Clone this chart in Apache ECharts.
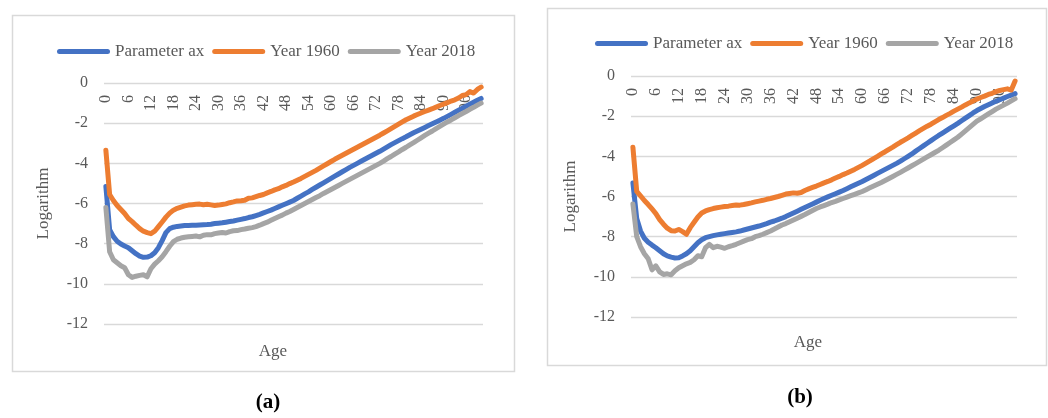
<!DOCTYPE html>
<html>
<head>
<meta charset="utf-8">
<script src="https://cdn.jsdelivr.net/npm/echarts@6/dist/echarts.min.js"></script>
<style>
html,body{margin:0;padding:0;background:#fff;}
#c{width:1048px;height:418px;}
</style>
</head>
<body>
<div id="c"></div>
<script>
const ages = Array.from({length: 101}, (_, i) => String(i));
const seriesNames = ['Parameter ax', 'Year 1960', 'Year 2018'];
const yTicks = [0, -2, -4, -6, -8, -10, -12];

const axA = [-5.15,-7.3,-7.65,-7.88,-8.02,-8.12,-8.2,-8.35,-8.5,-8.62,-8.68,-8.67,-8.6,-8.45,-8.2,-7.85,-7.45,-7.25,-7.18,-7.14,
-7.12,-7.1,-7.09,-7.08,-7.08,-7.07,-7.06,-7.05,-7.03,-7.0,-6.98,-6.96,-6.93,-6.9,-6.87,-6.83,-6.79,-6.75,-6.7,-6.66,
-6.6,-6.54,-6.47,-6.4,-6.33,-6.25,-6.17,-6.09,-6.01,-5.93,-5.85,-5.74,-5.63,-5.52,-5.42,-5.3,-5.19,-5.08,-4.97,-4.86,
-4.75,-4.64,-4.53,-4.42,-4.31,-4.2,-4.1,-4.0,-3.9,-3.8,-3.7,-3.6,-3.5,-3.4,-3.29,-3.18,-3.07,-2.97,-2.87,-2.77,
-2.68,-2.58,-2.48,-2.39,-2.3,-2.21,-2.12,-2.03,-1.94,-1.85,-1.76,-1.66,-1.56,-1.46,-1.36,-1.26,-1.16,-1.06,-0.96,-0.86,-0.77];
const y1960A = [-3.35,-5.55,-5.85,-6.1,-6.3,-6.5,-6.75,-6.9,-7.08,-7.25,-7.38,-7.45,-7.5,-7.38,-7.15,-6.92,-6.68,-6.48,-6.33,-6.24,
-6.18,-6.12,-6.08,-6.06,-6.04,-6.03,-6.06,-6.04,-6.07,-6.1,-6.08,-6.05,-6.02,-5.96,-5.92,-5.87,-5.86,-5.84,-5.74,-5.72,
-5.66,-5.6,-5.55,-5.47,-5.4,-5.32,-5.26,-5.17,-5.1,-5.01,-4.93,-4.84,-4.75,-4.65,-4.55,-4.45,-4.35,-4.24,-4.13,-4.02,
-3.91,-3.8,-3.7,-3.6,-3.5,-3.4,-3.3,-3.2,-3.1,-3.0,-2.9,-2.8,-2.7,-2.6,-2.49,-2.38,-2.27,-2.16,-2.05,-1.94,
-1.83,-1.74,-1.65,-1.57,-1.49,-1.42,-1.35,-1.28,-1.2,-1.12,-1.05,-0.98,-0.9,-0.84,-0.75,-0.62,-0.58,-0.43,-0.5,-0.32,-0.2];
const y2018A = [-6.2,-8.4,-8.8,-8.95,-9.1,-9.2,-9.55,-9.68,-9.62,-9.58,-9.55,-9.65,-9.25,-9.02,-8.85,-8.65,-8.4,-8.13,-7.9,-7.78,
-7.72,-7.68,-7.66,-7.64,-7.62,-7.66,-7.58,-7.55,-7.56,-7.5,-7.47,-7.44,-7.47,-7.4,-7.36,-7.35,-7.3,-7.27,-7.23,-7.2,
-7.15,-7.08,-7.0,-6.93,-6.84,-6.75,-6.66,-6.58,-6.48,-6.4,-6.3,-6.2,-6.1,-6.0,-5.9,-5.8,-5.7,-5.61,-5.5,-5.4,
-5.3,-5.2,-5.1,-5.0,-4.9,-4.8,-4.7,-4.6,-4.5,-4.4,-4.3,-4.2,-4.1,-4.0,-3.89,-3.77,-3.66,-3.54,-3.43,-3.31,
-3.2,-3.08,-2.97,-2.85,-2.73,-2.61,-2.5,-2.39,-2.27,-2.16,-2.05,-1.94,-1.84,-1.73,-1.62,-1.52,-1.42,-1.31,-1.21,-1.1,-1.0];

const axB = [-5.33,-7.1,-7.72,-8.08,-8.28,-8.42,-8.55,-8.7,-8.85,-8.96,-9.02,-9.06,-9.05,-8.96,-8.85,-8.7,-8.5,-8.3,-8.15,-8.05,
-8.0,-7.95,-7.91,-7.88,-7.85,-7.82,-7.79,-7.76,-7.72,-7.67,-7.62,-7.57,-7.52,-7.47,-7.41,-7.35,-7.28,-7.22,-7.15,-7.08,
-7.0,-6.91,-6.82,-6.73,-6.64,-6.55,-6.46,-6.37,-6.28,-6.19,-6.1,-6.02,-5.94,-5.86,-5.78,-5.7,-5.61,-5.52,-5.43,-5.34,
-5.25,-5.15,-5.05,-4.95,-4.85,-4.75,-4.65,-4.55,-4.45,-4.35,-4.24,-4.12,-4.0,-3.88,-3.74,-3.61,-3.48,-3.35,-3.22,-3.09,
-2.96,-2.84,-2.72,-2.6,-2.48,-2.36,-2.23,-2.1,-1.97,-1.84,-1.72,-1.62,-1.52,-1.43,-1.34,-1.26,-1.18,-1.1,-1.02,-0.95,-0.88];
const y1960B = [-3.55,-5.75,-5.97,-6.2,-6.4,-6.62,-6.85,-7.15,-7.38,-7.58,-7.7,-7.72,-7.64,-7.75,-7.88,-7.55,-7.28,-7.02,-6.82,-6.72,
-6.65,-6.6,-6.56,-6.53,-6.5,-6.48,-6.45,-6.42,-6.43,-6.4,-6.36,-6.32,-6.27,-6.23,-6.19,-6.14,-6.1,-6.05,-6.0,-5.94,
-5.88,-5.85,-5.82,-5.84,-5.8,-5.7,-5.62,-5.55,-5.48,-5.4,-5.32,-5.25,-5.17,-5.08,-5.0,-4.91,-4.83,-4.74,-4.65,-4.55,
-4.45,-4.34,-4.23,-4.11,-4.0,-3.88,-3.77,-3.65,-3.54,-3.42,-3.3,-3.19,-3.08,-2.96,-2.84,-2.72,-2.61,-2.5,-2.4,-2.28,
-2.17,-2.07,-1.96,-1.86,-1.75,-1.65,-1.55,-1.44,-1.34,-1.25,-1.15,-1.07,-1.0,-0.92,-0.86,-0.78,-0.72,-0.68,-0.64,-0.7,-0.25];
const y2018B = [-6.37,-8.0,-8.5,-8.85,-9.1,-9.65,-9.45,-9.75,-9.88,-9.85,-9.9,-9.7,-9.55,-9.45,-9.35,-9.28,-9.15,-8.95,-9.0,-8.55,
-8.38,-8.55,-8.48,-8.52,-8.58,-8.5,-8.45,-8.38,-8.3,-8.22,-8.15,-8.1,-8.0,-7.95,-7.88,-7.8,-7.72,-7.62,-7.52,-7.42,
-7.35,-7.26,-7.17,-7.08,-6.99,-6.9,-6.8,-6.7,-6.6,-6.52,-6.45,-6.38,-6.3,-6.24,-6.17,-6.1,-6.03,-5.96,-5.89,-5.82,
-5.75,-5.66,-5.57,-5.48,-5.39,-5.3,-5.2,-5.1,-5.0,-4.9,-4.8,-4.69,-4.58,-4.47,-4.36,-4.25,-4.14,-4.03,-3.92,-3.81,
-3.7,-3.57,-3.44,-3.31,-3.18,-3.05,-2.89,-2.73,-2.57,-2.41,-2.25,-2.13,-2.01,-1.89,-1.77,-1.65,-1.55,-1.45,-1.35,-1.24,-1.13];

const FONT = '"Liberation Serif", "DejaVu Serif", serif';
const TXT = '#595959';
const GRIDC = '#d9d9d9';
const COLORS = ['#4472C4', '#ED7D31', '#A5A5A5'];

function xAxisCfg(gi) {
  return {
    type: 'category', gridIndex: gi, data: ages, position: 'top', boundaryGap: true,
    axisLine: {show: false}, axisTick: {show: false},
    axisLabel: {interval: 5, rotate: 90, inside: true, margin: 12, color: TXT, fontSize: 16, fontFamily: FONT},
    splitLine: {show: false}
  };
}
function yAxisCfg(gi) {
  return {
    type: 'value', gridIndex: gi, min: yTicks[yTicks.length - 1], max: yTicks[0], interval: 2,
    name: 'Logarithm', nameLocation: 'middle', nameGap: 52, nameRotate: 90,
    nameTextStyle: {color: TXT, fontSize: 17, fontFamily: FONT},
    axisLine: {show: false}, axisTick: {show: false},
    axisLabel: {color: TXT, fontSize: 16, fontFamily: FONT, margin: 16},
    splitLine: {lineStyle: {color: GRIDC, width: 1.3}}
  };
}
function legendCfg(left, top) {
  return {
    data: seriesNames, left: left, top: top, padding: 0, itemWidth: 53, itemHeight: 5, itemGap: 8,
    icon: 'path://M2.5,0 L50.5,0 A2.5,2.5 0 0 1 50.5,5 L2.5,5 A2.5,2.5 0 0 1 2.5,0 Z',
    textStyle: {color: TXT, fontSize: 17, fontFamily: FONT},
    selectedMode: false
  };
}
function lineSeries(name, data, gi, color) {
  return {
    type: 'line', name: name, data: data, xAxisIndex: gi, yAxisIndex: gi,
    symbol: 'none', smooth: false, color: color,
    lineStyle: {width: 5, color: color, cap: 'round', join: 'round'},
    emphasis: {disabled: true}
  };
}

const chart = echarts.init(document.getElementById('c'), null, {renderer: 'canvas'});
chart.setOption({
  animation: false,
  backgroundColor: '#fff',
  grid: [
    {left: 104, top: 83, width: 379, height: 241},
    {left: 631, top: 76, width: 386, height: 241}
  ],
  xAxis: [xAxisCfg(0), xAxisCfg(1)],
  yAxis: [yAxisCfg(0), yAxisCfg(1)],
  legend: [legendCfg(57, 43), legendCfg(595, 35)],
  series: [
    lineSeries(seriesNames[0], axA, 0, COLORS[0]),
    lineSeries(seriesNames[1], y1960A, 0, COLORS[1]),
    lineSeries(seriesNames[2], y2018A, 0, COLORS[2]),
    lineSeries(seriesNames[0], axB, 1, COLORS[0]),
    lineSeries(seriesNames[1], y1960B, 1, COLORS[1]),
    lineSeries(seriesNames[2], y2018B, 1, COLORS[2])
  ],
  graphic: [
    {type: 'rect', shape: {x: 12.5, y: 15.5, width: 502, height: 356}, style: {fill: null, stroke: GRIDC, lineWidth: 1.5}, silent: true},
    {type: 'rect', shape: {x: 547.5, y: 8.5, width: 499, height: 357}, style: {fill: null, stroke: GRIDC, lineWidth: 1.5}, silent: true},
    {type: 'text', x: 273, y: 352, style: {text: 'Age', fill: TXT, font: '17px ' + FONT, align: 'center', verticalAlign: 'middle'}},
    {type: 'text', x: 808, y: 343, style: {text: 'Age', fill: TXT, font: '17px ' + FONT, align: 'center', verticalAlign: 'middle'}},
    {type: 'text', x: 268, y: 403, style: {text: '(a)', fill: '#000', font: 'bold 21px ' + FONT, align: 'center', verticalAlign: 'middle'}},
    {type: 'text', x: 800, y: 398, style: {text: '(b)', fill: '#000', font: 'bold 21px ' + FONT, align: 'center', verticalAlign: 'middle'}}
  ]
});
</script>
</body>
</html>
